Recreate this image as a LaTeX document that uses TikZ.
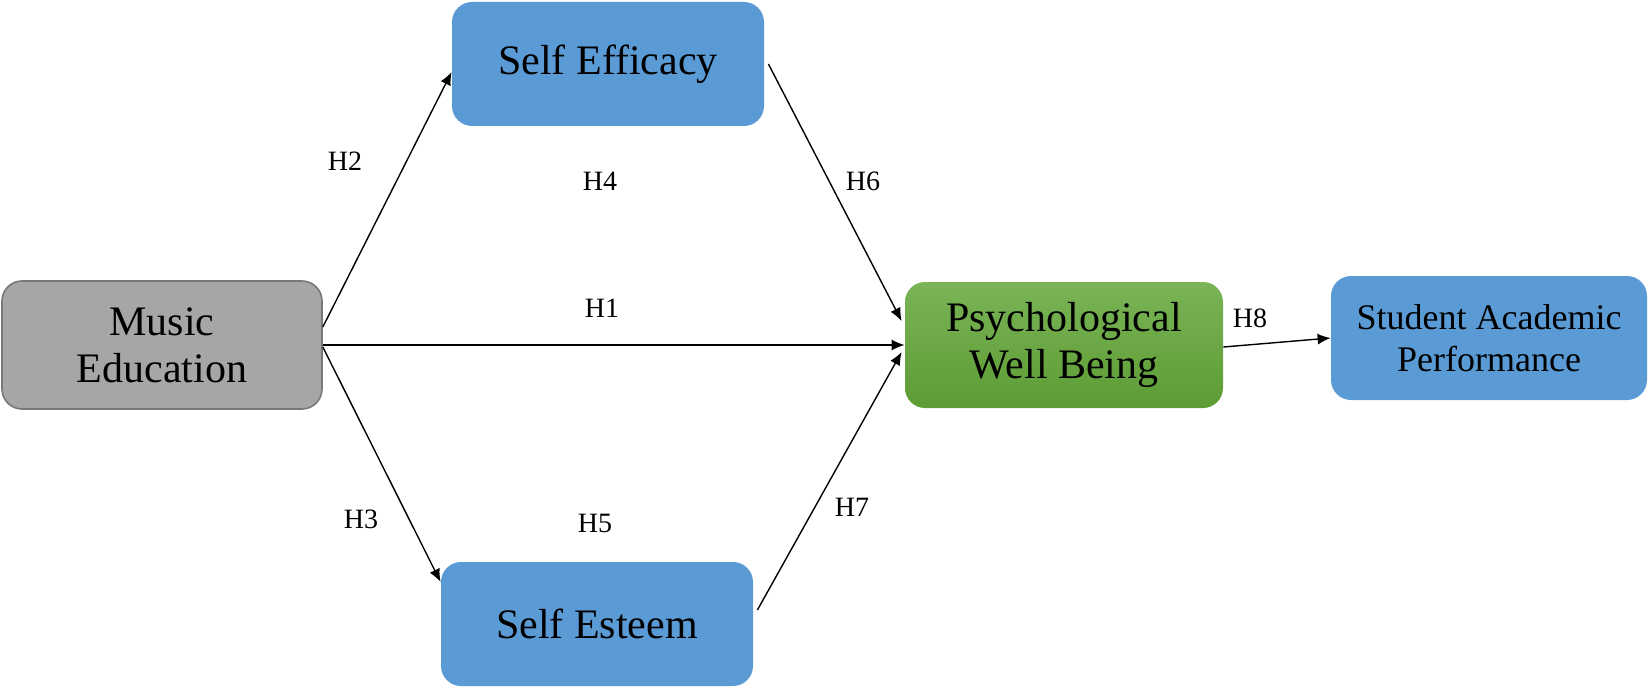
\documentclass[tikz,border=0pt]{standalone}
\usepackage{fontspec}
\setmainfont{Liberation Serif}
\usepackage{tikz}
\usetikzlibrary{arrows.meta}
\definecolor{boxblue}{RGB}{91,155,213}
\definecolor{boxgrey}{RGB}{166,166,166}
\definecolor{greyline}{RGB}{120,120,120}
\definecolor{greentop}{RGB}{122,180,86}
\definecolor{greenbot}{RGB}{92,156,52}

\begin{document}
\begin{tikzpicture}[
  x=0.5pt, y=-0.5pt,
  box/.style={rectangle, rounded corners=10pt, align=center, inner sep=4pt,
              fill=boxblue, font=\fontsize{21}{23.5}\selectfont},
  arr/.style={-{Latex[length=6.5pt,width=5.5pt]}, line width=0.7pt, color=black},
  lbl/.style={font=\fontsize{14}{16}\selectfont, inner sep=1pt}
]
\useasboundingbox (0,0) rectangle (1650,690);

\node[box, fill=boxgrey, draw=greyline, line width=0.8pt,
      minimum width=160pt, minimum height=64pt] (music) at (162,345)
  {Music\\Education};

\node[box, minimum width=156pt, minimum height=62pt] (efficacy) at (608,64)
  {Self Efficacy};

\node[box, minimum width=156pt, minimum height=62pt] (esteem) at (597,624)
  {Self Esteem};

\node[box, fill=none, top color=greentop, bottom color=greenbot,
      minimum width=159pt, minimum height=63pt] (wellbeing) at (1064,345)
  {Psychological\\Well Being};

\node[box, font=\fontsize{18}{21}\selectfont,
      minimum width=158pt, minimum height=62pt] (performance) at (1489,338)
  {Student Academic\\Performance};

\draw[arr] ([yshift=9pt]music.east) -- ([yshift=-4pt]efficacy.west);
\draw[arr] (music.east) -- (wellbeing.west);
\draw[arr] ([yshift=-1pt]music.east) -- ([yshift=21pt]esteem.west);
\draw[arr] ([xshift=2pt]efficacy.east) -- ([xshift=-1.5pt,yshift=12pt]wellbeing.west);
\draw[arr] ([xshift=2pt,yshift=7pt]esteem.east) -- ([xshift=-1.5pt,yshift=-3.5pt]wellbeing.west);
\draw[arr] ([yshift=-1pt]wellbeing.east) -- (performance.west);

\node[lbl] (h1) at (602,308) {H1};
\node[lbl] (h2) at (345,161) {H2};
\node[lbl] (h3) at (361,519) {H3};
\node[lbl] (h4) at (600,181) {H4};
\node[lbl] (h5) at (595,523) {H5};
\node[lbl] (h6) at (863,181) {H6};
\node[lbl] (h7) at (852,507) {H7};
\node[lbl] (h8) at (1250,318) {H8};
\end{tikzpicture}
\end{document}
